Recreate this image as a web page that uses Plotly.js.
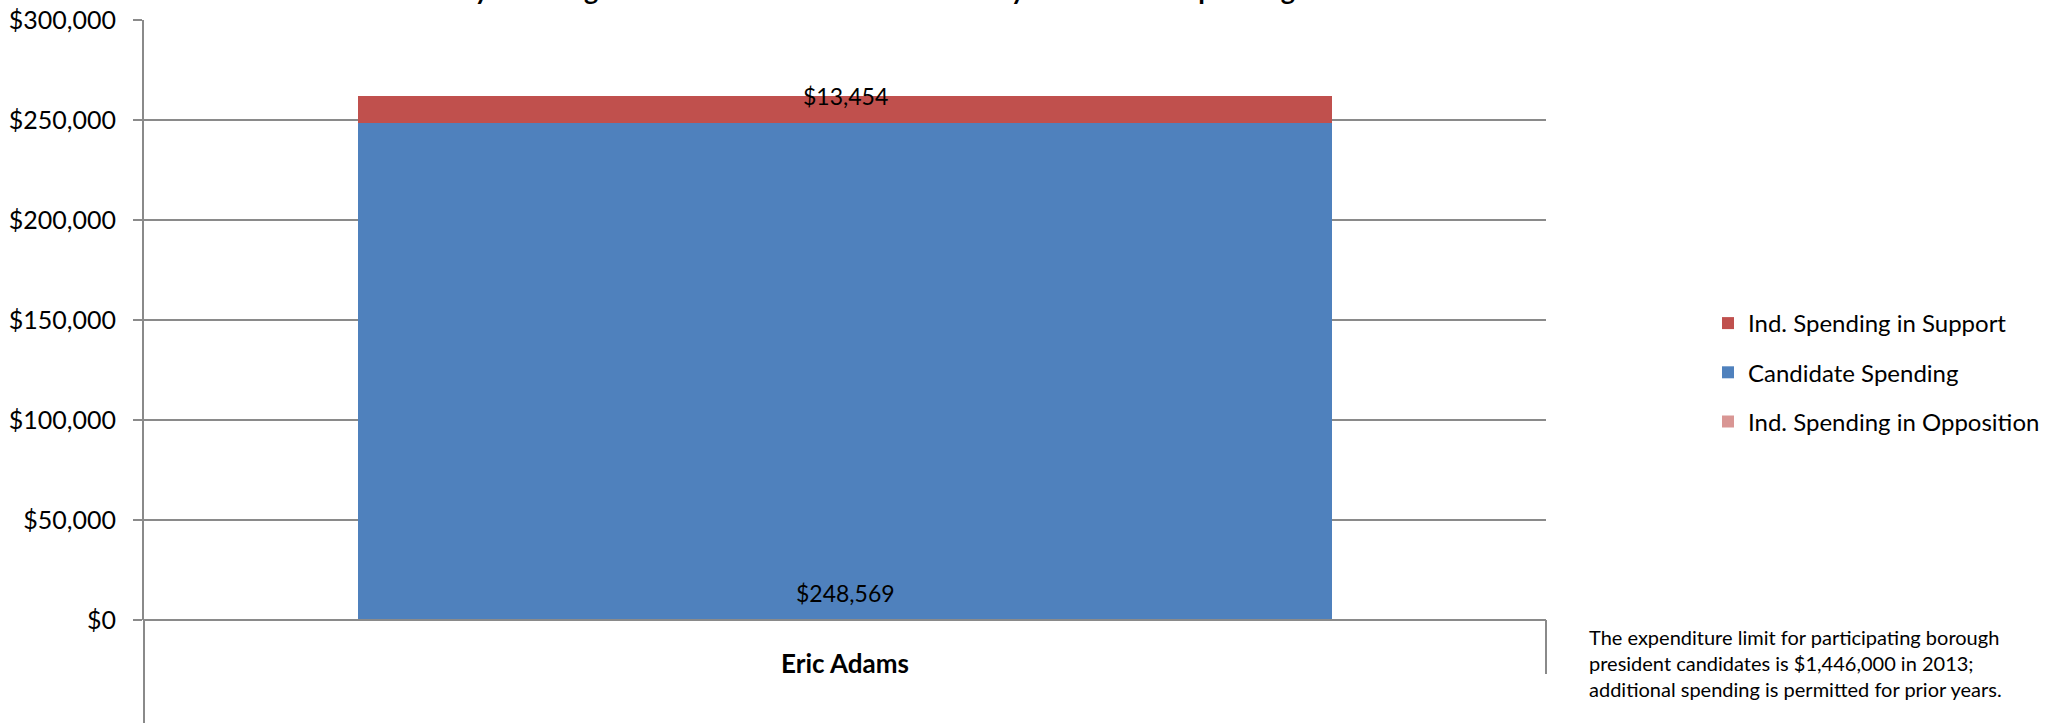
<!DOCTYPE html>
<html>
<head>
<meta charset="utf-8">
<script src="https://cdn.plot.ly/plotly-3.0.1.min.js"></script>
<style>
  html, body { margin: 0; padding: 0; background: #ffffff; }
  #chart { width: 2068px; height: 725px; }
</style>
</head>
<body>
<div id="chart"></div>
<script>
// ---- data ----
const candidates = ['Eric Adams'];
const candidateSpending = [248569];
const supportSpending = [13454];
const oppositionSpending = [0];
const seriesNames = ['Ind. Spending in Support', 'Candidate Spending', 'Ind. Spending in Opposition'];
const yTickValues = [0, 50000, 100000, 150000, 200000, 250000, 300000];
const chartTitle = 'Brooklyn Borough President Race: Candidate Money and Outside Spending';
const noteLines = [
  'The expenditure limit for participating borough',
  'president candidates is $1,446,000 in 2013;',
  'additional spending is permitted for prior years.'
];

// ---- styles ----
const FONT = 'Lato, "Open Sans", "DejaVu Sans", sans-serif';
const GRID = '#8a8a8a';
const BLUE = '#4F81BD';
const RED = '#C0504D';
const PINK = '#D99694';

const money = v => '$' + v.toLocaleString('en-US');

const traces = [
  { type: 'bar', name: seriesNames[2], x: candidates, y: oppositionSpending,
    marker: { color: PINK }, width: 0.695, legendgroup: 'c', legendrank: 3, hoverinfo: 'none' },
  { type: 'bar', name: seriesNames[1], x: candidates, y: candidateSpending,
    marker: { color: BLUE }, width: 0.695, legendgroup: 'b', legendrank: 2, hoverinfo: 'none' },
  { type: 'bar', name: seriesNames[0], x: candidates, y: supportSpending,
    marker: { color: RED }, width: 0.695, legendgroup: 'a', legendrank: 1, hoverinfo: 'none' }
];

const annotations = [];
candidates.forEach((c, i) => {
  annotations.push({
    x: c, y: candidateSpending[i] + supportSpending[i], xref: 'x', yref: 'y',
    text: money(supportSpending[i]), showarrow: false, yanchor: 'middle',
    font: { family: FONT, size: 23, color: '#000' }
  });
  annotations.push({
    x: c, y: 0, xref: 'x', yref: 'y', yshift: 27,
    text: money(candidateSpending[i]), showarrow: false, yanchor: 'middle',
    font: { family: FONT, size: 23, color: '#000' }
  });
});
annotations.push({
  xref: 'paper', yref: 'paper', x: 1.029, y: -0.072, xanchor: 'left', yanchor: 'middle',
  align: 'left', showarrow: false, text: noteLines.join('<br>'),
  font: { family: FONT, size: 20, color: '#000' }
});

const layout = {
  width: 2068, height: 725,
  margin: { l: 144, r: 522, t: 20, b: 105, autoexpand: false },
  paper_bgcolor: '#ffffff', plot_bgcolor: '#ffffff',
  font: { family: FONT, color: '#000' },
  title: {
    text: chartTitle, xref: 'container', yref: 'container',
    x: 845 / 2068, xanchor: 'center', y: 1, yanchor: 'bottom',
    font: { family: FONT, size: 27, weight: 'bold', color: '#000' }
  },
  barmode: 'stack',
  showlegend: true,
  legend: {
    xref: 'container', yref: 'container', x: 1708 / 2068, y: 1 - 301 / 725,
    xanchor: 'left', yanchor: 'top', traceorder: 'grouped', tracegroupgap: 15,
    font: { family: FONT, size: 24, color: '#000' }, bgcolor: 'rgba(0,0,0,0)'
  },
  xaxis: {
    type: 'category', range: [-0.5, 0.5], showgrid: false, zeroline: false,
    showline: false, ticks: '', ticklabelstandoff: 26,
    tickfont: { family: FONT, size: 26, weight: 'bold', color: '#000' },
    fixedrange: true
  },
  yaxis: {
    range: [0, 300000], tickvals: yTickValues, ticktext: yTickValues.map(money),
    showgrid: true, gridcolor: GRID, gridwidth: 2, zeroline: false,
    showline: true, linecolor: GRID, linewidth: 2,
    ticks: 'outside', ticklen: 9, tickwidth: 2, tickcolor: GRID, ticklabelstandoff: 12,
    tickfont: { family: FONT, size: 25, color: '#000' }, fixedrange: true
  },
  shapes: [
    { type: 'line', xref: 'paper', yref: 'paper', x0: 0, x1: 0, y0: 0, y1: -103 / 600,
      line: { color: GRID, width: 2 } },
    { type: 'line', xref: 'paper', yref: 'paper', x0: 1, x1: 1, y0: 0, y1: -54 / 600,
      line: { color: GRID, width: 2 } },
    { type: 'line', xref: 'paper', yref: 'paper', x0: 0, x1: 1, y0: 0, y1: 0,
      line: { color: GRID, width: 2 }, layer: 'above' }
  ],
  annotations: annotations
};

Plotly.newPlot('chart', traces, layout, { displayModeBar: false, staticPlot: true });
</script>
</body>
</html>
